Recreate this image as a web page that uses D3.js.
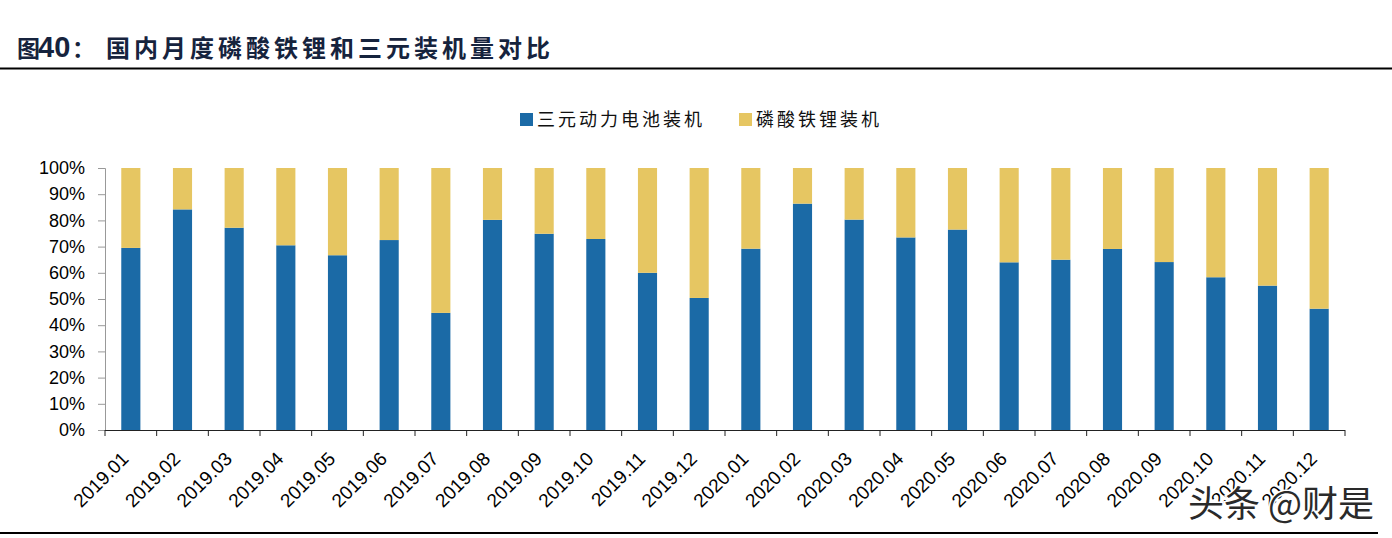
<!DOCTYPE html>
<html>
<head>
<meta charset="utf-8">
<script src="https://cdn.jsdelivr.net/npm/d3@7.9.0/dist/d3.min.js"></script>
<style>
  body { margin: 0; background: #fff; }
  svg { display: block; font-family: "Liberation Sans", Arial, sans-serif; }
</style>
</head>
<body>
<div id="chart"></div>
<script>
const months = ['2019.01','2019.02','2019.03','2019.04','2019.05','2019.06','2019.07','2019.08','2019.09','2019.10','2019.11','2019.12',
                '2020.01','2020.02','2020.03','2020.04','2020.05','2020.06','2020.07','2020.08','2020.09','2020.10','2020.11','2020.12'];
// share of ternary (三元) installations, %
const ternary = [69.5, 84.2, 77.2, 70.5, 66.7, 72.5, 44.7, 80.2, 74.9, 72.9, 60.0, 50.4,
                 69.2, 86.4, 80.3, 73.5, 76.5, 64.0, 65.0, 69.1, 64.1, 58.3, 55.1, 46.3];
const lfp = ternary.map(v => 100 - v);
const seriesNames = ['三元动力电池装机', '磷酸铁锂装机'];
const colors = ['#1b6aa6', '#e6c662'];
const yTicks = [0, 10, 20, 30, 40, 50, 60, 70, 80, 90, 100];

const width = 1392, height = 538;
const svg = d3.select('#chart').append('svg')
    .attr('width', width).attr('height', height);

// title + rules
const title = svg.append('text')
    .attr('y', 57)
    .attr('font-family', '"Noto Sans CJK SC", sans-serif')
    .attr('font-weight', 'bold')
    .attr('fill', '#16233d');
title.append('tspan').attr('x', 17).attr('font-size', 23).text('图');
title.append('tspan').attr('x', 38).attr('font-size', 29)
    .attr('font-family', '"Liberation Sans", Arial, sans-serif').text('40');
title.append('tspan').attr('x', 72).attr('font-size', 23).text('：');
title.append('tspan').attr('x', 106).attr('font-size', 24).attr('letter-spacing', 4)
    .text('国内月度磷酸铁锂和三元装机量对比');

svg.append('line').attr('x1', 0).attr('x2', 1392).attr('y1', 68.5).attr('y2', 68.5)
    .attr('stroke', '#000').attr('stroke-width', 2);
svg.append('line').attr('x1', 0).attr('x2', 1378).attr('y1', 533).attr('y2', 533)
    .attr('stroke', '#000').attr('stroke-width', 2);

const margin = {left: 105, right: 1345, top: 168, bottom: 430};

const x = d3.scaleBand().domain(months).range([margin.left, margin.right]).paddingInner(0.63).paddingOuter(0.315);
const y = d3.scaleLinear().domain([0, 100]).range([margin.bottom, margin.top]);

const rows = months.map((m, i) => ({month: m, ternary: ternary[i], lfp: lfp[i]}));
const stack = d3.stack().keys(['ternary', 'lfp'])(rows);

svg.append('g').selectAll('g')
    .data(stack)
    .join('g')
    .attr('fill', (d, i) => colors[i])
    .selectAll('rect')
    .data(d => d)
    .join('rect')
    .attr('x', d => x(d.data.month))
    .attr('width', x.bandwidth())
    .attr('y', d => y(d[1]))
    .attr('height', d => y(d[0]) - y(d[1]));

// y axis
const yAxis = svg.append('g')
    .attr('transform', `translate(${margin.left},0)`)
    .call(d3.axisLeft(y).tickValues(yTicks).tickSize(7).tickPadding(13).tickFormat(d => d + '%'));
yAxis.select('.domain').attr('stroke', '#999');
yAxis.selectAll('.tick line').attr('stroke', '#999');
yAxis.selectAll('text').attr('font-size', 18).attr('fill', '#000')
    .attr('font-family', '"Liberation Sans", Arial, sans-serif');

// x axis with ticks at category boundaries
const step = x.step();
const xAxis = svg.append('g').attr('transform', `translate(0,${margin.bottom})`);
xAxis.append('line').attr('x1', margin.left).attr('x2', margin.right).attr('y1', 0.5).attr('y2', 0.5)
    .attr('stroke', '#222');
xAxis.selectAll('line.tk')
    .data(d3.range(months.length + 1))
    .join('line')
    .attr('class', 'tk')
    .attr('x1', i => margin.left + i * step).attr('x2', i => margin.left + i * step)
    .attr('y1', 0).attr('y2', 6)
    .attr('stroke', '#222');
xAxis.selectAll('text')
    .data(months)
    .join('text')
    .attr('transform', d => `translate(${x(d) + x.bandwidth() / 2 - 1},${30}) rotate(-45)`)
    .attr('text-anchor', 'end')
    .attr('font-size', 19)
    .attr('fill', '#000')
    .text(d => d);

// legend
const legend = svg.append('g').attr('font-family', '"Noto Sans CJK SC", sans-serif');
const legendX = [520, 739];
seriesNames.forEach((name, i) => {
  legend.append('rect').attr('x', legendX[i]).attr('y', 113).attr('width', 13).attr('height', 13).attr('fill', colors[i]);
  legend.append('text').attr('x', legendX[i] + 17).attr('y', 126)
      .attr('font-size', 18).attr('fill', '#111').attr('letter-spacing', 3).text(name);
});

// watermark
svg.append('text')
    .attr('x', 1188).attr('y', 517)
    .attr('font-family', '"Noto Sans CJK SC", sans-serif')
    .attr('font-size', 36)
    .attr('fill', '#2a2a2a')
    .attr('stroke', '#fff').attr('stroke-width', 3).attr('paint-order', 'stroke')
    .text('头条 @财是');
</script>
</body>
</html>
